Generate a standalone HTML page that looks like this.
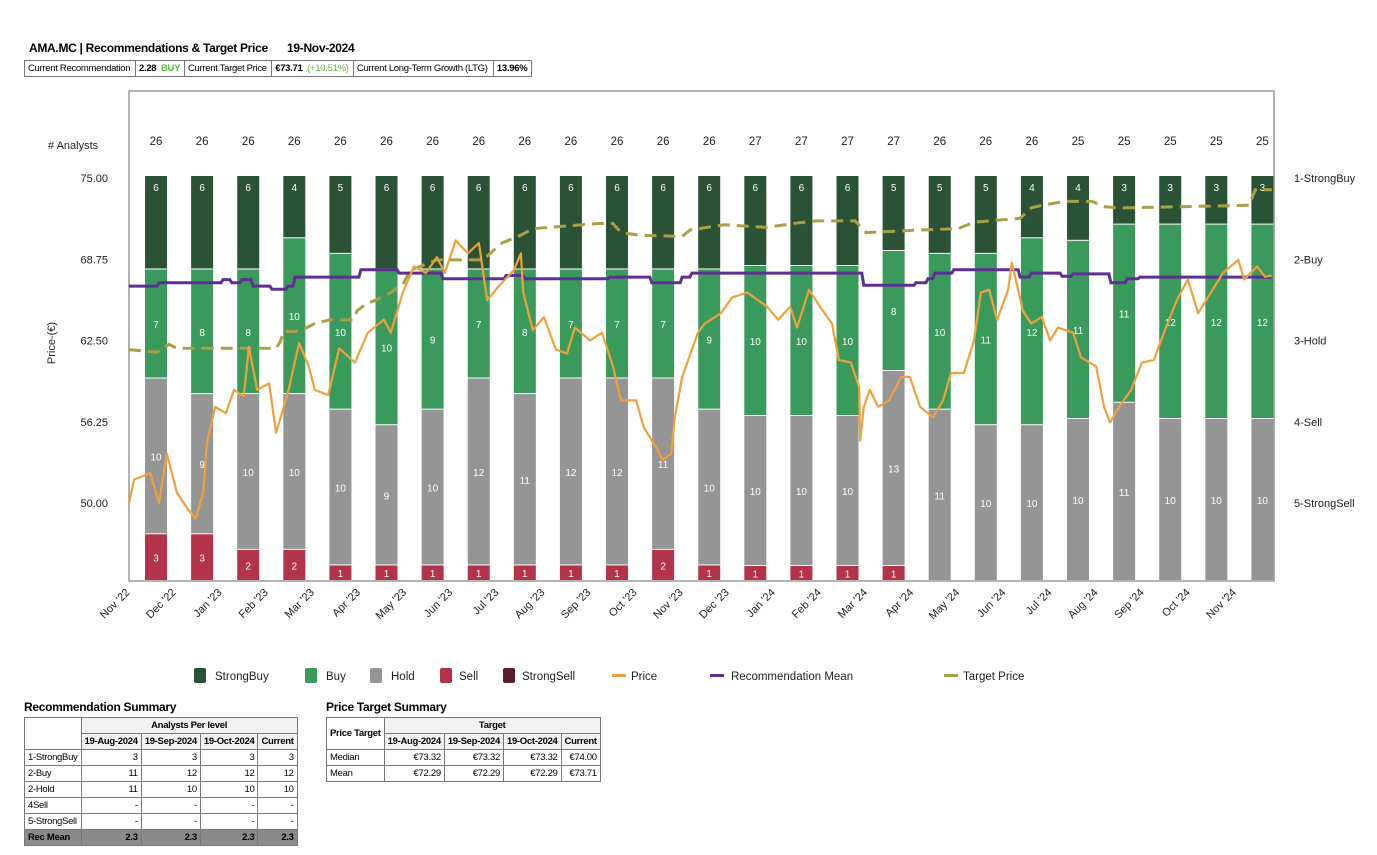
<!DOCTYPE html>
<html><head><meta charset="utf-8">
<style>
body{margin:0;background:#fff;font-family:"Liberation Sans",sans-serif;}
#wrap{position:relative;width:1377px;height:855px;overflow:hidden;background:#fff;}
.t{position:absolute;font-weight:bold;font-size:12px;color:#000;letter-spacing:-0.3px}
table{position:absolute;border-collapse:collapse;font-size:9.5px;letter-spacing:-0.3px}
td{border:1px solid #777;padding:0 3px;height:15px;white-space:nowrap}
.hd td{background:#f2f2f2;font-weight:bold;text-align:center}
.n{text-align:right}
.rm td{background:#8a8a8a;font-weight:bold}
#info td{height:15px;font-size:9.5px}
</style></head><body>
<div id="wrap">
<div class="t" style="left:29px;top:41px">AMA.MC | Recommendations &amp; Target Price</div>
<div class="t" style="left:287px;top:41px">19-Nov-2024</div>
<table id="info" style="left:24px;top:60px;width:508px"><tr>
<td>Current Recommendation</td><td><b>2.28</b> &nbsp;<b style="color:#5cb83c">BUY</b></td><td>Current Target Price</td><td><b>€73.71</b> &nbsp;<span style="color:#5cb83c">(+10.51%)</span></td><td>Current Long-Term Growth (LTG)</td><td><b>13.96%</b></td></tr></table>

<svg id="chart" width="1377" height="700" style="position:absolute;left:0;top:0"></svg>

<div class="t" style="left:24px;top:700px">Recommendation Summary</div>
<table style="left:24px;top:717px;width:273px">
<tr class="hd"><td rowspan="2" style="background:#fff;width:50px"></td><td colspan="4">Analysts Per level</td></tr>
<tr class="hd"><td>19-Aug-2024</td><td>19-Sep-2024</td><td>19-Oct-2024</td><td>Current</td></tr>
<tr><td>1-StrongBuy</td><td class="n">3</td><td class="n">3</td><td class="n">3</td><td class="n">3</td></tr>
<tr><td>2-Buy</td><td class="n">11</td><td class="n">12</td><td class="n">12</td><td class="n">12</td></tr>
<tr><td>2-Hold</td><td class="n">11</td><td class="n">10</td><td class="n">10</td><td class="n">10</td></tr>
<tr><td>4Sell</td><td class="n">-</td><td class="n">-</td><td class="n">-</td><td class="n">-</td></tr>
<tr><td>5-StrongSell</td><td class="n">-</td><td class="n">-</td><td class="n">-</td><td class="n">-</td></tr>
<tr class="rm"><td>Rec Mean</td><td class="n">2.3</td><td class="n">2.3</td><td class="n">2.3</td><td class="n">2.3</td></tr>
</table>
<div class="t" style="left:326px;top:700px">Price Target Summary</div>
<table style="left:326px;top:717px;width:274px">
<tr class="hd"><td rowspan="2" style="background:#fff">Price Target</td><td colspan="4">Target</td></tr>
<tr class="hd"><td>19-Aug-2024</td><td>19-Sep-2024</td><td>19-Oct-2024</td><td>Current</td></tr>
<tr><td>Median</td><td class="n">€73.32</td><td class="n">€73.32</td><td class="n">€73.32</td><td class="n">€74.00</td></tr>
<tr><td>Mean</td><td class="n">€72.29</td><td class="n">€72.29</td><td class="n">€72.29</td><td class="n">€73.71</td></tr>
</table>
</div>
<script>
const months=["Nov '22","Dec '22","Jan '23","Feb '23","Mar '23","Apr '23","May '23","Jun '23","Jul '23","Aug '23","Sep '23","Oct '23","Nov '23","Dec '23","Jan '24","Feb '24","Mar '24","Apr '24","May '24","Jun '24","Jul '24","Aug '24","Sep '24","Oct '24","Nov '24"];
const strongBuy=[6,6,6,4,5,6,6,6,6,6,6,6,6,6,6,6,5,5,5,4,4,3,3,3,3];
const buy=[7,8,8,10,10,10,9,7,8,7,7,7,9,10,10,10,8,10,11,12,11,11,12,12,12];
const hold=[10,9,10,10,10,9,10,12,11,12,12,11,10,10,10,10,13,11,10,10,10,11,10,10,10];
const sell=[3,3,2,2,1,1,1,1,1,1,1,2,1,1,1,1,1,0,0,0,0,0,0,0,0];
const strongSell=[0,0,0,0,0,0,0,0,0,0,0,0,0,0,0,0,0,0,0,0,0,0,0,0,0];
const priceTicks=[75,68.75,62.5,56.25,50];
const recTicks=["1-StrongBuy","2-Buy","3-Hold","4-Sell","5-StrongSell"];
const priceT=[0,.11,.46,.65,.82,1.04,1.28,1.45,1.61,1.69,1.87,2.10,2.28,2.49,2.60,2.78,3.04,3.19,3.45,3.69,3.90,4.03,4.32,4.56,4.90,5.18,5.53,5.68,5.94,6.18,6.44,6.68,6.85,7.09,7.35,7.59,7.77,8.00,8.35,8.50,8.55,8.76,9.00,9.26,9.50,9.67,10.0,10.26,10.50,10.67,11.0,11.17,11.43,11.58,11.76,11.84,12.0,12.34,12.49,12.84,13.08,13.41,13.84,14.08,14.34,14.49,14.75,14.99,15.25,15.40,15.66,15.84,15.86,15.94,16.07,16.25,16.49,16.75,16.94,17.16,17.44,17.66,17.83,18.11,18.33,18.48,18.66,18.83,19.07,19.15,19.39,19.57,19.80,19.98,20.15,20.48,20.65,20.98,21.15,21.28,21.48,21.74,21.97,22.23,22.47,22.73,22.97,23.19,23.47,23.73,24.06,24.19,24.47,24.64,24.79];
const priceV=[50.0,51.8,52.3,50.0,53.8,50.8,49.5,48.8,50.8,54.6,57.4,56.9,58.7,58.2,62.0,58.7,59.2,55.4,58.5,62.3,60.5,58.7,58.3,61.9,60.8,63.1,64.1,63.1,66.2,68.2,67.7,68.9,67.7,70.2,69.2,70.0,65.6,66.6,67.9,69.2,66.2,63.3,64.3,61.8,61.5,63.5,62.5,63.1,60.5,57.9,57.9,55.8,54.3,53.3,53.8,56.6,59.7,63.1,63.8,64.6,65.8,66.2,65.1,64.1,65.1,63.5,66.4,65.1,63.8,61.0,60.8,58.9,54.8,57.4,58.7,57.4,57.9,59.7,59.7,57.4,56.6,57.9,60.0,60.0,62.5,66.2,66.4,64.1,66.4,68.5,64.8,63.8,64.3,62.5,63.5,63.1,61.2,60.5,57.4,56.2,57.4,58.7,60.8,61.0,63.3,65.6,67.2,64.6,66.2,67.7,68.7,67.2,68.2,67.4,67.5];
const targetT=[0,.61,.87,1.04,3.19,3.28,3.36,3.69,4.03,4.36,4.86,4.95,5.18,5.36,5.68,5.94,6.10,6.68,7.68,8.09,8.50,8.76,10.17,10.50,10.67,11.08,12.0,12.17,12.91,13.84,14.40,14.90,15.75,15.99,17.16,17.98,18.33,19.33,19.57,19.80,20.30,20.89,21.15,21.48,24.30,24.43,24.79];
const targetV=[61.8,61.6,62.2,61.9,61.9,62.4,63.2,63.2,63.8,64.1,64.1,64.8,65.4,65.6,66.2,66.8,67.9,68.7,68.7,70.0,70.6,71.1,71.5,71.5,70.8,70.6,70.5,71.0,71.4,71.2,71.5,71.7,71.7,70.8,71.0,71.1,71.6,71.9,72.7,72.9,73.2,73.2,72.8,72.7,72.9,74.1,74.1];
const recT=[0,.65,2.04,2.23,2.45,2.69,3.10,3.45,3.60,5.03,5.86,6.81,8.18,8.59,10.43,11.34,12.0,12.21,15.94,17.07,17.33,17.48,17.89,19.33,19.57,20.24,20.48,21.30,21.65,21.93,24.79];
const recV=[2.33,2.29,2.25,2.29,2.25,2.33,2.37,2.33,2.22,2.13,2.17,2.24,2.20,2.24,2.22,2.29,2.22,2.17,2.32,2.29,2.24,2.17,2.13,2.22,2.17,2.21,2.18,2.29,2.24,2.22,2.22];

const svg=document.getElementById('chart');
const NS='http://www.w3.org/2000/svg';
function mk(tag,attrs,parent){const e=document.createElementNS(NS,tag);for(const k in attrs)e.setAttribute(k,attrs[k]);(parent||svg).appendChild(e);return e;}
const PL=129,PR=1274,PT=91,PB=581;
const xT=m=>PL+m*46.1;
const xB=i=>xT(i+0.586);
const yP=v=>503-(v-50)*13;
const yR=r=>178+(r-1)*81.25;
const BAR_TOP=176,BW=22;
const colors={sb:'#2a5234',b:'#3a9a5c',h:'#959595',s:'#b3334a',ss:'#5a1f2a'};

let r=mk('rect',{x:PL,y:PT,width:PR-PL,height:PB-PT,fill:'none',stroke:'#9a9a9a','stroke-width':1.5});



let t=mk('text',{x:48,y:149,'font-size':11,fill:'#222'});t.textContent='# Analysts';



priceTicks.forEach(v=>{const e=mk('text',{x:108,y:yP(v)+4,'font-size':11,'text-anchor':'end',fill:'#222'});e.textContent=v.toFixed(2);

});
recTicks.forEach((l,i)=>{const e=mk('text',{x:1294,y:yR(i+1)+4,'font-size':11,fill:'#222'});e.textContent=l;

});
t=mk('text',{x:0,y:0,'font-size':11,fill:'#222','text-anchor':'middle',transform:'translate(55,343) rotate(-90)'});t.textContent='Price-(€)';



months.forEach((mn,i)=>{
  const all=[['ss',strongSell[i]],['s',sell[i]],['h',hold[i]],['b',buy[i]],['sb',strongBuy[i]]];
  const tot=all.reduce((a,s)=>a+s[1],0);
  const u=(PB-BAR_TOP)/tot;
  let y=PB;
  const g=mk('g',{});
  
  
  all.forEach(([k,v])=>{
    if(!v)return;
    const h=v*u;y-=h;
    const rc=mk('rect',{x:xB(i)-BW/2,y:y,width:BW,height:h-1,fill:colors[k]},g);
    
    
    const tx=mk('text',{x:xB(i),y:y+h/2+(k==='sb'?-h/2+15:4),'font-size':10,'text-anchor':'middle',fill:'#fff'},g);
    tx.textContent=v;
    
    
  });
  const c=mk('text',{x:xB(i),y:145,'font-size':11.5,'text-anchor':'middle',fill:'#222'});c.textContent=tot;
  
  
  const ml=mk('text',{x:0,y:0,'font-size':11,'text-anchor':'end',fill:'#222',transform:`translate(${xT(i+0.03)},593) rotate(-45)`});ml.textContent=mn;
  
  
});

let d='';targetT.forEach((m,i)=>{d+=(i?'L':'M')+xT(m).toFixed(1)+' '+yP(targetV[i]).toFixed(1);});
let p=mk('path',{d:d,fill:'none',stroke:'#a9a045','stroke-width':3,'stroke-dasharray':'12 7'});



d='';recT.forEach((m,i)=>{const x=xT(m).toFixed(1),y=yR(recV[i]).toFixed(1);
  if(i===0)d+='M'+x+' '+y;else d+='L'+(xT(m)-2).toFixed(1)+' '+yR(recV[i-1]).toFixed(1)+'L'+x+' '+y;});
p=mk('path',{d:d,fill:'none',stroke:'#5e2f92','stroke-width':3});



d='';priceT.forEach((m,i)=>{d+=(i?'L':'M')+xT(m).toFixed(1)+' '+yP(priceV[i]).toFixed(1);});
p=mk('path',{d:d,fill:'none',stroke:'#f0a03c','stroke-width':2.2,'stroke-linejoin':'round'});



const legend=[['box',194,colors.sb,'StrongBuy',21],['box',305,colors.b,'Buy',21],['box',370,colors.h,'Hold',21],['box',440,colors.s,'Sell',19],['box',503,colors.ss,'StrongSell',19],['line',612,'#f0a03c','Price',19],['line',710,'#5e2f92','Recommendation Mean',21],['line',944,'#a9a045','Target Price',19]];
legend.forEach(([type,x,c,l,off])=>{
  const g=mk('g',{});
  
  
  if(type==='box')mk('rect',{x:x,y:668,width:12,height:15,rx:2,fill:c},g);
  else mk('rect',{x:x,y:674,width:14,height:3,fill:c},g);
  const tx=mk('text',{x:x+off,y:680,'font-size':11.5,fill:'#222'},g);tx.textContent=l;
});
</script>
</body></html>
